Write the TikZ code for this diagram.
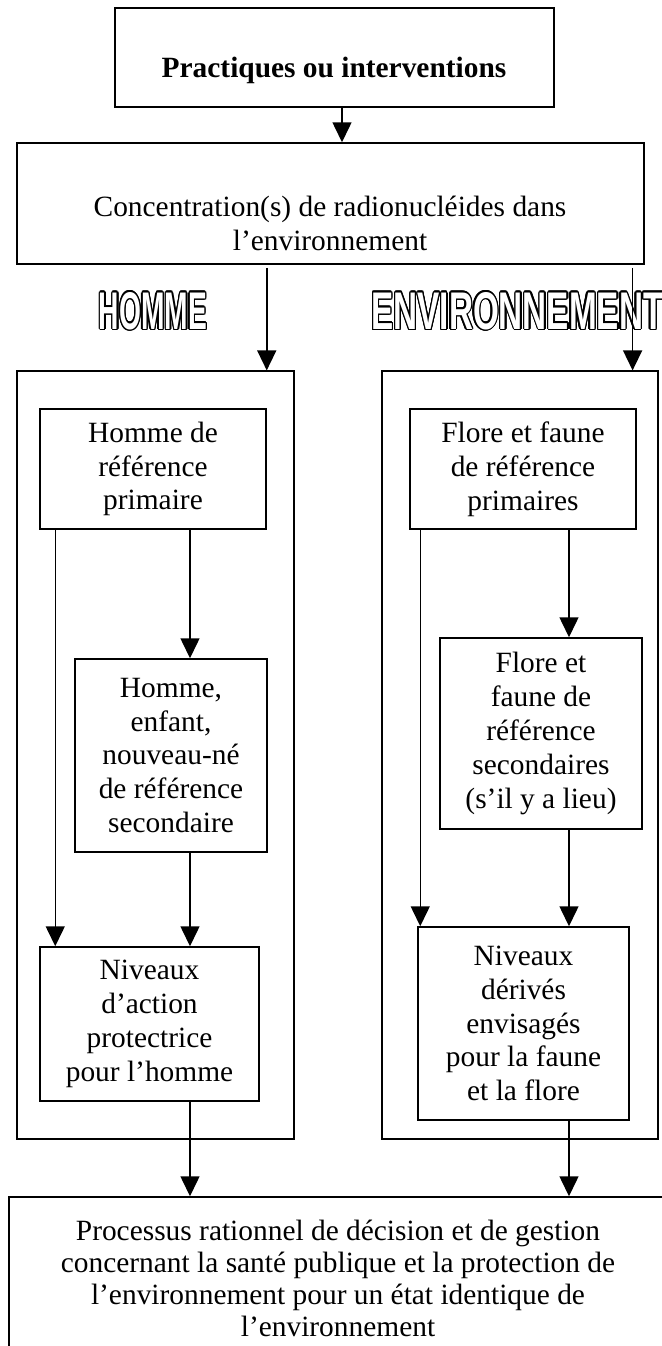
\documentclass[tikz,border=0pt]{standalone}
\usepackage{fontspec}
\setmainfont{Liberation Serif}
\newfontfamily\grastitre{Liberation Sans}
\usepackage{graphicx}
\usepackage[copies]{contour}
\contourlength{0.65pt}
\usetikzlibrary{arrows.meta}
\begin{document}
\begin{tikzpicture}[x=0.5pt, y=-0.5pt,
    every node/.style={font=\fontsize{14.7}{16.9}\selectfont},
    boite/.style={draw, line width=0.75pt, inner sep=0pt, align=center},
    cadre/.style={draw, line width=0.6pt, inner sep=0pt},
    fleche/.style={-{Triangle[length=10pt,width=9.5pt]}, line width=0.75pt}]
    \useasboundingbox (0,0) rectangle (661,1346);
    % boites du haut
    \node[boite, minimum width=219.5pt, minimum height=49.5pt] (pratiq) at (334.5,57.5) {};
    \node[font=\fontsize{14.7}{16.9}\selectfont\bfseries] (pratiqT) at (334,70) {Practiques ou interventions};
    \node[boite, minimum width=313.5pt, minimum height=60.5pt] (conc) at (330.5,203.5) {};
    \node[align=center] (concT) at (330,223.5) {Concentration(s) de radionucléides dans\\l’environnement};
    % titres
    \node (homme) at (153,311.5) {\textcolor{white}{\contour{black}{\resizebox{54pt}{18.5pt}{\grastitre\bfseries HOMME}}}};
    \node[anchor=west, inner sep=0pt] (envir) at (371,311.5) {\textcolor{white}{\contour{black}{\resizebox{146pt}{18.5pt}{\grastitre\bfseries ENVIRONNEMENT}}}};
    % cadres
    \node[cadre, minimum width=138.5pt, minimum height=384pt] (cadreH) at (155.5,755) {};
    \node[cadre, minimum width=138pt, minimum height=384pt] (cadreE) at (520,755) {};
    % cote homme
    \node[boite, minimum width=113pt, minimum height=60pt] (h1) at (153,469) {Homme de\\référence\\primaire};
    \node[boite, minimum width=96pt, minimum height=96.5pt] (h2) at (171,755.5) {Homme,\\enfant,\\nouveau-né\\de référence\\secondaire};
    \node[boite, minimum width=109.5pt, minimum height=77pt] (h3) at (149.5,1024) {Niveaux\\d’action\\protectrice\\pour l’homme};
    % cote environnement
    \node[boite, minimum width=113pt, minimum height=60pt] (e1) at (523,469) {Flore et faune\\de référence\\primaires};
    \node[boite, minimum width=101pt, minimum height=95.5pt] (e2) at (541,733.5) {Flore et\\faune de\\référence\\secondaires\\(s’il y a lieu)};
    \node[boite, minimum width=105.5pt, minimum height=96.5pt] (e3) at (523.5,1023.5) {Niveaux\\dérivés\\envisagés\\pour la faune\\et la flore};
    % boite du bas
    \node[boite, minimum width=329pt, minimum height=81.5pt, font=\fontsize{14.7}{15.9}\selectfont] (final) at (338,1278.5) {Processus rationnel de décision et de gestion\\concernant la santé publique et la protection de\\l’environnement pour un état identique de\\l’environnement};
    % points de depart
    \coordinate (p1) at ([xshift=3.75pt]pratiq.south);
    \coordinate (dH) at ([yshift=-1.5pt]conc.south -| h1.east);
    \coordinate (hE) at ([xshift=-13pt]cadreE.north east);
    \coordinate (bE) at (hE |- conc.south);
    \coordinate (gH) at ([xshift=8pt]h1.south west);
    \coordinate (mH) at ([xshift=18.5pt]h1.south);
    \coordinate (gE) at ([xshift=5.5pt]e1.south west);
    \coordinate (mE) at ([xshift=23pt]e1.south);
    % fleches
    \draw[fleche] (p1) -- (p1 |- conc.north);
    \draw[fleche] (dH) -- (dH |- cadreH.north);
    \draw[fleche] ([yshift=-1.5pt]bE) -- (hE);
    \draw[fleche] (mH) -- (mH |- h2.north);
    \draw[fleche] (gH) -- (gH |- h3.north);
    \draw[fleche] (mH |- h2.south) -- (mH |- h3.north);
    \draw[fleche] (mH |- h3.south) -- (mH |- final.north);
    \draw[fleche] (mE) -- (mE |- e2.north);
    \draw[fleche] (gE) -- (gE |- e3.north);
    \draw[fleche] (mE |- e2.south) -- (mE |- e3.north);
    \draw[fleche] (mE |- e3.south) -- (mE |- final.north);
\end{tikzpicture}
\end{document}
